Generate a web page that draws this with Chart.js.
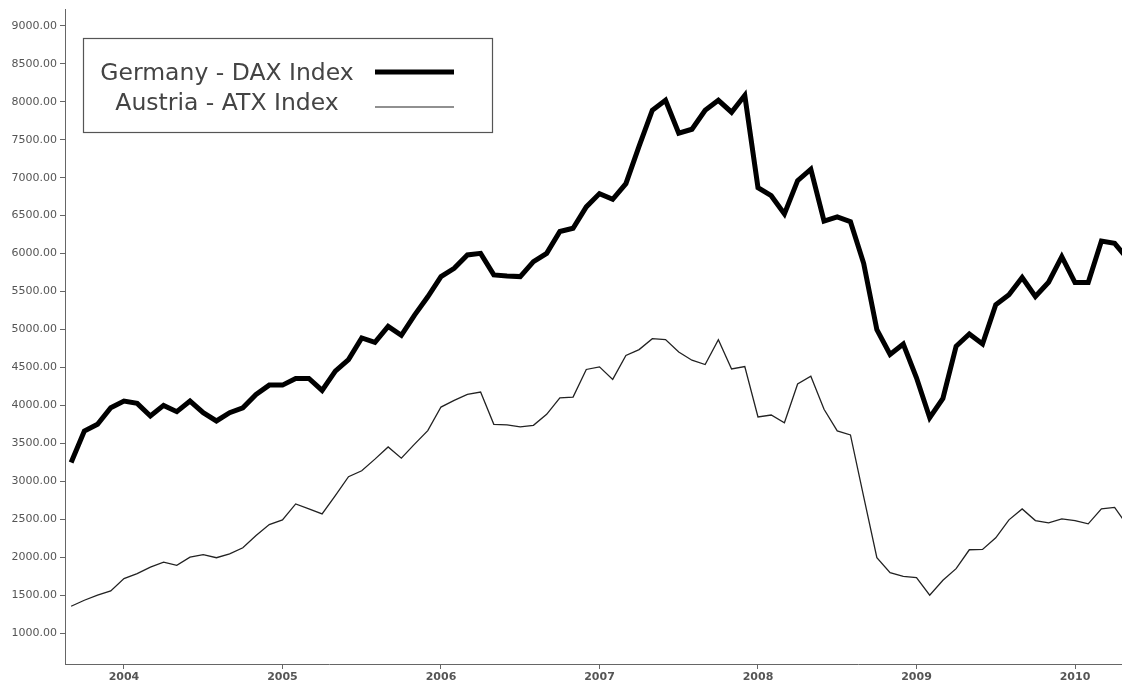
<!DOCTYPE html>
<html>
<head>
<meta charset="utf-8">
<script src="https://cdn.jsdelivr.net/npm/chart.js@4.4.1/dist/chart.umd.min.js"></script>
<style>
  html, body { margin: 0; padding: 0; background: #ffffff; }
  #wrap { width: 1122px; height: 688px; }
</style>
</head>
<body>
<div id="wrap"><canvas id="c" width="1122" height="688"></canvas></div>
<script>
// ---- data ----
const startYear = 2003;
const startMonth = 9; // September 2003, monthly points
const seriesNames = ['Germany - DAX Index', 'Austria - ATX Index'];
const daxValues = [
  3247, 3663, 3751, 3969,
  4057, 4027, 3860, 4000, 3917, 4057, 3903, 3795, 3903, 3969, 4145, 4267,
  4267, 4355, 4355, 4197, 4451, 4604, 4888, 4831, 5041, 4923, 5190, 5430,
  5697, 5806, 5982, 6003, 5719, 5706, 5697, 5894, 6003, 6290, 6333, 6615,
  6790, 6715, 6921, 7415, 7888, 8019, 7586, 7638, 7888, 8019, 7862, 8085,
  6868, 6762, 6522, 6960, 7111, 6428, 6484, 6419, 5871, 4998, 4670, 4809,
  4363, 3838, 4092, 4779, 4940, 4809, 5326, 5457, 5684, 5435, 5622, 5959,
  5618, 5618, 6165, 6134, 5926
];
const atxValues = [
  1354, 1433, 1499, 1555,
  1718, 1783, 1870, 1935, 1892, 2001, 2033, 1993, 2045, 2124, 2286, 2430,
  2492, 2702, 2636, 2570, 2811, 3060, 3139, 3292, 3453, 3305, 3489, 3668,
  3978, 4066, 4145, 4175, 3751, 3742, 3716, 3738, 3882, 4100, 4109, 4473,
  4507, 4342, 4657, 4735, 4879, 4866, 4704, 4595, 4538, 4866, 4480, 4512,
  3847, 3873, 3772, 4282, 4385, 3948, 3663, 3611, 2797, 1993, 1796, 1748,
  1731, 1499, 1696, 1849, 2098, 2102, 2256, 2492, 2636, 2483, 2453, 2505,
  2483, 2439, 2636, 2657, 2408
];
const yearTicks = [2004, 2005, 2006, 2007, 2008, 2009, 2010];
const valueTicks = [1000, 1500, 2000, 2500, 3000, 3500, 4000, 4500, 5000, 5500, 6000, 6500, 7000, 7500, 8000, 8500, 9000];
const xRange = [2003.628, 2010.2965];
const yRange = [593, 9214];

// month index -> fractional year (first day of month)
function monthX(i) {
  const m = (startMonth - 1) + i;
  return startYear + m / 12;
}
const daxPoints = daxValues.map((v, i) => ({ x: monthX(i), y: v }));
const atxPoints = atxValues.map((v, i) => ({ x: monthX(i), y: v }));

const FONT = '"DejaVu Sans", Verdana, sans-serif';

const legendBox = {
  id: 'legendBox',
  afterDraw(chart) {
    const ctx = chart.ctx;
    ctx.save();
    ctx.strokeStyle = '#555';
    ctx.lineWidth = 1.2;
    ctx.strokeRect(83.5, 38.5, 409, 94);
    ctx.fillStyle = '#444';
    ctx.font = '23.5px ' + FONT;
    ctx.textAlign = 'center';
    ctx.textBaseline = 'alphabetic';
    const ds = chart.data.datasets;
    ctx.fillText(ds[0].label, 227, 80);
    ctx.fillText(ds[1].label, 227, 110);
    ctx.lineCap = 'butt';
    ctx.strokeStyle = '#000';
    ctx.lineWidth = 5;
    ctx.beginPath(); ctx.moveTo(375, 72); ctx.lineTo(454, 72); ctx.stroke();
    ctx.strokeStyle = '#222';
    ctx.lineWidth = 1.2;
    ctx.beginPath(); ctx.moveTo(375, 107); ctx.lineTo(454, 107); ctx.stroke();
    ctx.restore();
  }
};

new Chart(document.getElementById('c'), {
  type: 'line',
  data: {
    datasets: [
      { label: seriesNames[0], data: daxPoints, borderColor: '#000', borderWidth: 5, borderJoinStyle: 'miter', pointRadius: 0, tension: 0, fill: false },
      { label: seriesNames[1], data: atxPoints, borderColor: '#222', borderWidth: 1.3, pointRadius: 0, tension: 0, fill: false }
    ]
  },
  options: {
    responsive: false,
    devicePixelRatio: 1,
    animation: false,
    layout: { padding: { top: 7, right: 0, bottom: 0, left: 0 } },
    plugins: { legend: { display: false }, tooltip: { enabled: false } },
    scales: {
      x: {
        type: 'linear',
        min: xRange[0], max: xRange[1],
        afterBuildTicks: s => { s.ticks = yearTicks.map(v => ({ value: v })); },
        afterFit: s => { s.height = 24; },
        ticks: { callback: v => String(v), color: '#555', font: { family: FONT, size: 11, weight: 'bold' }, padding: 2, maxRotation: 0, autoSkip: false },
        grid: { drawOnChartArea: false, tickLength: 5, color: '#666' },
        border: { color: '#666', width: 1 }
      },
      y: {
        min: yRange[0], max: yRange[1],
        afterBuildTicks: s => { s.ticks = valueTicks.map(v => ({ value: v })); },
        afterFit: s => { s.width = 65; },
        ticks: { callback: v => Number(v).toFixed(2), color: '#555', font: { family: FONT, size: 11 }, padding: 3, autoSkip: false },
        grid: { drawOnChartArea: false, tickLength: 5, color: '#666' },
        border: { color: '#666', width: 1 }
      }
    }
  },
  plugins: [legendBox]
});
</script>
</body>
</html>
